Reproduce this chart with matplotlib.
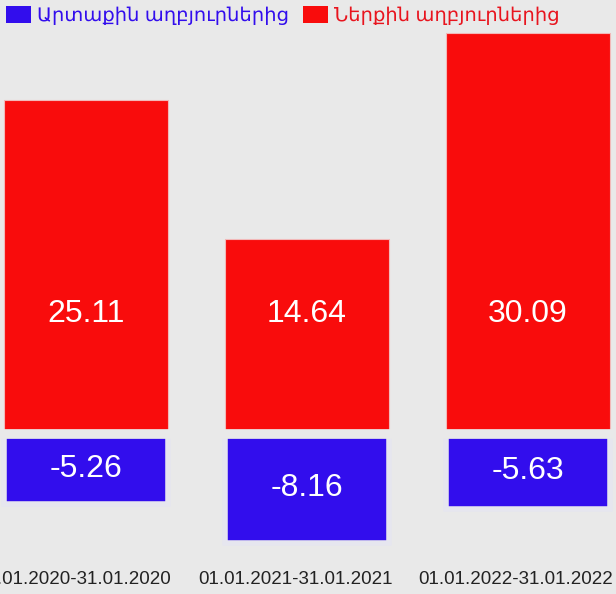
#!/usr/bin/env python3

import numpy as np
import matplotlib
matplotlib.use("Agg")
import matplotlib.pyplot as plt
import matplotlib.transforms as mtransforms
from matplotlib.patches import Patch

periods = ["01.01.2020-31.01.2020", "01.01.2021-31.01.2021", "01.01.2022-31.01.2022"]
external = [-5.26, -8.16, -5.63]
internal = [25.11, 14.64, 30.09]
external_label = "Արտաքին աղբյուրներից"
internal_label = "Ներքին աղբյուրներից"

blue = "#320ded"
red = "#f90c0c"
bg = "#e9e9e9"

plt.rcParams["font.family"] = ["Liberation Sans", "DejaVu Sans"]

fig = plt.figure(figsize=(6.16, 5.94), dpi=100)
fig.patch.set_facecolor(bg)
ax = fig.add_axes([0, 34 / 594, 1, 560 / 594])
ax.set_facecolor(bg)

x = np.arange(len(periods))
w = 0.74
ax.bar(x, internal, w, color=red, edgecolor="#f2b8b8", linewidth=0.8, zorder=2)
ax.bar(x, external, w, color=blue, edgecolor="#e6e6ef", linewidth=4, zorder=2)

# gap between the two stacks
ax.axhline(0, color=bg, linewidth=7, zorder=3)

# red values sit at about the same height in every bar
for i in range(len(periods)):
    ax.text(x[i], 9.0, "%.2f" % internal[i], ha="center", va="center",
            color="white", fontsize=23, zorder=4)
    ax.text(x[i], external[i] / 2, "%.2f" % external[i], ha="center", va="center",
            color="white", fontsize=23, zorder=4)

ax.set_xlim(-0.389, 2.398)
ax.set_ylim(-9.47, 32.6)
ax.set_xticks(x)
ax.set_xticklabels(periods, fontsize=13.5, color="#222222")
ax.tick_params(axis="x", length=0, pad=8)
shift = mtransforms.ScaledTranslation(-12 / 100, 0, fig.dpi_scale_trans)
for lab in ax.get_xticklabels():
    lab.set_transform(lab.get_transform() + shift)
ax.set_yticks([])
for s in ax.spines.values():
    s.set_visible(False)

handles = [Patch(facecolor=blue, edgecolor="none"), Patch(facecolor=red, edgecolor="none")]
fig.legend(handles=handles, labels=[external_label, internal_label],
           loc="upper left", bbox_to_anchor=(0.0, 1.0), ncol=2, frameon=False,
           fontsize=14, labelcolor=[blue, "#e8141e"], handlelength=1.3,
           handleheight=1.0, handletextpad=0.3, columnspacing=0.7,
           borderaxespad=0.1, borderpad=0.2)

fig.savefig("out.png", dpi=100, facecolor=fig.get_facecolor())
